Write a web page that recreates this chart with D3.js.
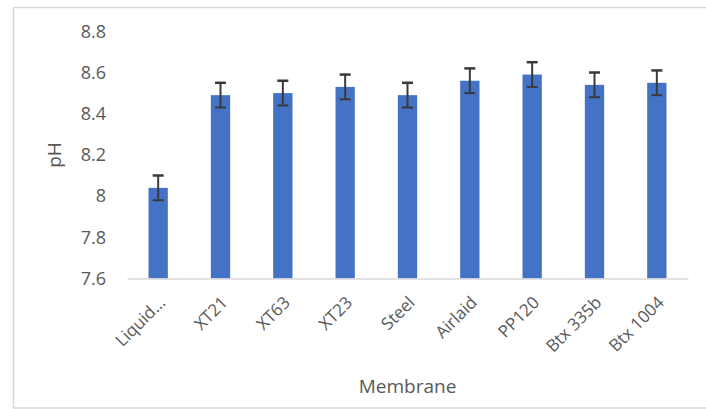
<!DOCTYPE html>
<html><head><meta charset="utf-8">
<script src="https://cdn.jsdelivr.net/npm/d3@7"></script>
<style>body{margin:0;background:#fff}svg{display:block}text{font-family:"Open Sans",sans-serif}</style>
</head><body><svg id="c" width="706" height="409"></svg>
<script>
const categories = ["Liquid...", "XT21", "XT63", "XT23", "Steel", "Airlaid", "PP120", "Btx 335b", "Btx 1004"];
const phValues = [8.04, 8.49, 8.50, 8.53, 8.49, 8.56, 8.59, 8.54, 8.55];
const phErrors = [0.06, 0.06, 0.06, 0.06, 0.06, 0.06, 0.06, 0.06, 0.06];
const yTicks = [7.6, 7.8, 8.0, 8.2, 8.4, 8.6, 8.8];

const svg = d3.select("#c");
svg.append("rect").attr("x", 13.5).attr("y", 7.5).attr("width", 700).attr("height", 400.5)
  .attr("fill", "#fff").attr("stroke", "#d9d9d9").attr("stroke-width", 1.5);

const m = {left: 127, right: 688, top: 31.3, bottom: 278.5};
const x = d3.scaleBand().domain(categories).range([m.left, m.right]).paddingInner(0.69).paddingOuter(0.345);
const y = d3.scaleLinear().domain([7.6, 8.8]).range([m.bottom, m.top]);

// bars
svg.append("g").selectAll("rect").data(categories).join("rect")
  .attr("x", d => x(d)).attr("width", x.bandwidth())
  .attr("y", (d, i) => y(phValues[i])).attr("height", (d, i) => y(7.6) - y(phValues[i]))
  .attr("fill", "#4472c4");

// error bars
const eb = svg.append("g").attr("stroke", "#3a3a3a").attr("stroke-width", 2);
categories.forEach((d, i) => {
  const cx = x(d) + x.bandwidth() / 2;
  const y1 = y(phValues[i] + phErrors[i]), y0 = y(phValues[i] - phErrors[i]);
  eb.append("line").attr("x1", cx).attr("x2", cx).attr("y1", y1).attr("y2", y0);
  eb.append("line").attr("x1", cx - 5.5).attr("x2", cx + 5.5).attr("y1", y1).attr("y2", y1).attr("stroke-width", 2.5);
  eb.append("line").attr("x1", cx - 5.5).attr("x2", cx + 5.5).attr("y1", y0).attr("y2", y0);
});

// y axis
const ya = svg.append("g").attr("transform", `translate(${m.left},0)`)
  .call(d3.axisLeft(y).tickValues(yTicks).tickSize(0).tickPadding(21).tickFormat(d3.format("~g")));
ya.select(".domain").remove();
ya.selectAll("text").attr("fill", "#595959").style("font-size", "18px").style("font-family", "Open Sans");

// x axis
const xa = svg.append("g").attr("transform", `translate(0,${m.bottom})`)
  .call(d3.axisBottom(x).tickSize(0).tickPadding(0));
xa.select(".domain").attr("stroke", "#d9d9d9").attr("stroke-width", 1.5);
xa.selectAll("text").attr("fill", "#595959").style("font-size", "17px").style("font-family", "Open Sans")
  .attr("text-anchor", "end").attr("dy", "0.35em")
  .attr("transform", "translate(4,21) rotate(-45)");

// axis titles
svg.append("text").attr("x", (m.left + m.right) / 2).attr("y", 393).attr("text-anchor", "middle")
  .attr("fill", "#595959").style("font-size", "19px").text("Membrane");
svg.append("text").attr("transform", "translate(61,155) rotate(-90)").attr("text-anchor", "middle")
  .attr("fill", "#595959").style("font-size", "19px").text("pH");
</script></body></html>
